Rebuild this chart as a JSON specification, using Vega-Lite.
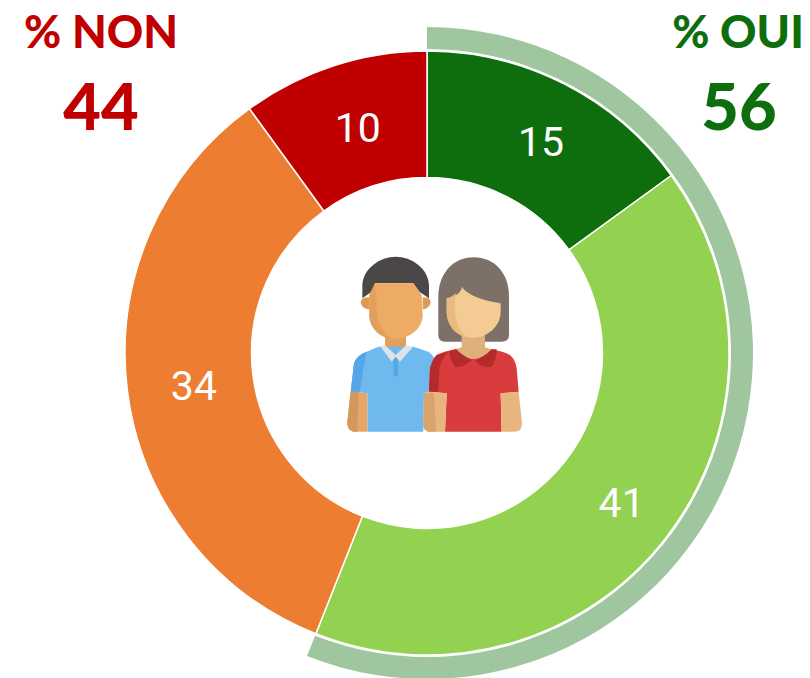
{
"$schema":"https://vega.github.io/schema/vega-lite/v6.json",
"width":766,"height":650,
"padding":{"left":44,"top":28,"right":0,"bottom":0},
"autosize":"none",
"background":"white",
"config":{"view":{"stroke":null}},
"datasets":{
"parts":[{"reponse":"Tout à fait oui","valeur":15,"rang":1},{"reponse":"Plutôt oui","valeur":41,"rang":2},{"reponse":"Plutôt non","valeur":34,"rang":3},{"reponse":"Pas du tout","valeur":10,"rang":4}],
"anneau":[{"groupe":"OUI","valeur":56}],
"one":[{"k":1}]
},
"layer":[
{"data":{"name":"anneau"},"mark":{"type":"arc","innerRadius":304,"outerRadius":326,"color":"#a0c6a0"},
 "encoding":{"theta":{"field":"valeur","type":"quantitative","stack":true,"scale":{"domain":[0,100]}}}},
{"data":{"name":"parts"},"mark":{"type":"arc","innerRadius":175.5,"outerRadius":302,"stroke":"white","strokeWidth":1.5},
 "encoding":{"theta":{"field":"valeur","type":"quantitative","stack":true,"scale":{"domain":[0,100]}},
 "order":{"field":"rang","type":"ordinal"},
 "color":{"field":"reponse","type":"nominal","legend":null,"scale":{"domain":["Tout à fait oui","Plutôt oui","Plutôt non","Pas du tout"],"range":["#0e6e0e","#92d250","#ed7d31","#c00000"]}}}},
{"data":{"name":"parts"},"mark":{"type":"text","radius":240,"dx":5,"dy":5,"font":"Roboto","fontSize":41,"color":"white"},
 "encoding":{"theta":{"field":"valeur","type":"quantitative","stack":true,"scale":{"domain":[0,100]}},
 "order":{"field":"rang","type":"ordinal"},
 "text":{"field":"valeur","type":"quantitative"}}},
{"data":{"values":[{"t":"% NON"}]},"mark":{"type":"text","dx":-326,"dy":-319,"font":"Lato","fontWeight":900,"fontSize":45,"color":"#c00000"},"encoding":{"text":{"field":"t"}}},
{"data":{"values":[{"t":"44"}]},"mark":{"type":"text","dx":-326,"dy":-243,"font":"Lato","fontWeight":900,"fontSize":65,"color":"#c00000"},"encoding":{"text":{"field":"t"}}},
{"data":{"values":[{"t":"% OUI"}]},"mark":{"type":"text","dx":311,"dy":-319,"font":"Lato","fontWeight":900,"fontSize":45,"color":"#0e6e0e"},"encoding":{"text":{"field":"t"}}},
{"data":{"values":[{"t":"56"}]},"mark":{"type":"text","dx":312,"dy":-243,"font":"Lato","fontWeight":900,"fontSize":65,"color":"#0e6e0e"},"encoding":{"text":{"field":"t"}}},
{"data":{"name":"one"},"layer":[
{"mark":{"type":"point","filled":true,"size":0.4444,"opacity":1,"xOffset":-97,"yOffset":-113,"color":"#dd9a55","shape":"M118 172 Q92 172 92 188 Q95 205 118 208 Z M278 172 Q302 172 302 188 Q298 205 278 208 Z"}},
{"mark":{"type":"point","filled":true,"size":0.4444,"opacity":1,"xOffset":-97,"yOffset":-113,"color":"#4a4746","shape":"M97 175 L97 135 C100 85 150 50 197 50 C245 50 295 85 297 135 L297 175 L268 155 L250 130 L135 130 L125 155 Z"}},
{"mark":{"type":"point","filled":true,"size":0.4444,"opacity":1,"xOffset":-97,"yOffset":-113,"color":"#e39f5c","shape":"M165 285 L228 285 L228 330 L165 330 Z"}},
{"mark":{"type":"point","filled":true,"size":0.4444,"opacity":1,"xOffset":-97,"yOffset":-113,"color":"#eeab66","shape":"M118 165 L135 130 L250 130 L275 165 L278 225 C278 265 240 296 197 296 C155 296 118 265 118 225 Z"}},
{"mark":{"type":"point","filled":true,"size":0.4444,"opacity":1,"xOffset":-97,"yOffset":-113,"color":"#e39f5c","shape":"M135 130 L118 165 L118 225 C118 265 150 293 185 296 C150 270 135 230 140 180 Z"}},
{"mark":{"type":"point","filled":true,"size":0.4444,"opacity":1,"xOffset":-97,"yOffset":-113,"color":"#6eb9ee","shape":"M145 320 L250 320 L295 335 Q310 345 315 360 L305 385 L297 455 L282 460 L280 575 L112 575 L112 460 L62 455 L72 370 Q80 345 110 335 Z"}},
{"mark":{"type":"point","filled":true,"size":0.4444,"opacity":1,"xOffset":-97,"yOffset":-113,"color":"#55a5e8","shape":"M110 335 Q80 345 72 370 L62 455 L90 455 L100 385 Z M190 350 L204 350 L204 405 Q197 412 190 405 Z"}},
{"mark":{"type":"point","filled":true,"size":0.4444,"opacity":1,"xOffset":-97,"yOffset":-113,"color":"#dde3e6","shape":"M150 318 L165 316 L197 345 L228 316 L248 322 L210 365 L197 350 L185 365 Z"}},
{"mark":{"type":"point","filled":true,"size":0.4444,"opacity":1,"xOffset":-97,"yOffset":-113,"color":"#e8a566","shape":"M62 455 L112 460 L112 575 L70 575 Q50 570 52 545 Z"}},
{"mark":{"type":"point","filled":true,"size":0.4444,"opacity":1,"xOffset":-97,"yOffset":-113,"color":"#d4975c","shape":"M62 455 L85 456 L82 575 L70 575 Q50 570 52 545 Z"}},
{"mark":{"type":"point","filled":true,"size":0.4444,"opacity":1,"xOffset":-97,"yOffset":-113,"color":"#7d7068","shape":"M325 170 C325 100 370 52 430 52 C495 52 537 100 537 170 L537 285 Q537 305 515 305 L345 305 Q325 305 325 285 Z"}},
{"mark":{"type":"point","filled":true,"size":0.4444,"opacity":1,"xOffset":-97,"yOffset":-113,"color":"#e0b07a","shape":"M395 280 L465 280 L465 322 L485 328 Q430 385 375 328 L395 322 Z"}},
{"mark":{"type":"point","filled":true,"size":0.4444,"opacity":1,"xOffset":-97,"yOffset":-113,"color":"#f5cb94","shape":"M350 175 Q395 165 395 140 Q420 175 512 190 L512 215 C512 260 470 293 430 293 C390 293 350 260 350 215 Z"}},
{"mark":{"type":"point","filled":true,"size":0.4444,"opacity":1,"xOffset":-97,"yOffset":-113,"color":"#e9bb82","shape":"M350 175 Q365 172 378 160 C370 200 372 260 410 292 C375 285 350 255 350 215 Z"}},
{"mark":{"type":"point","filled":true,"size":0.4444,"opacity":1,"xOffset":-97,"yOffset":-113,"color":"#d93c3c","shape":"M320 345 Q340 335 375 328 Q430 385 485 328 Q520 335 540 345 Q557 360 560 385 L566 455 L512 460 L515 575 L345 575 L350 460 L297 455 L300 385 Q305 360 320 345 Z"}},
{"mark":{"type":"point","filled":true,"size":0.4444,"opacity":1,"xOffset":-97,"yOffset":-113,"color":"#b52a2a","shape":"M320 345 Q308 360 300 385 L297 455 L325 455 L328 390 Q330 360 355 335 Z M358 335 L378 327 Q395 345 425 360 Q400 385 375 380 Q362 365 358 335 Z M500 328 L485 328 Q465 350 435 362 Q455 385 485 380 Q498 365 500 328 Z"}},
{"mark":{"type":"point","filled":true,"size":0.4444,"opacity":1,"xOffset":-97,"yOffset":-113,"color":"#e8b57e","shape":"M512 460 L566 455 L576 550 Q576 575 555 575 L515 575 Z M297 455 L350 460 L345 575 L300 575 Q285 575 280 560 L282 460 Z"}},
{"mark":{"type":"point","filled":true,"size":0.4444,"opacity":1,"xOffset":-97,"yOffset":-113,"color":"#d9a36c","shape":"M282 460 L312 460 L318 575 L295 575 Q280 570 280 555 Z"}}
]}
]
}
